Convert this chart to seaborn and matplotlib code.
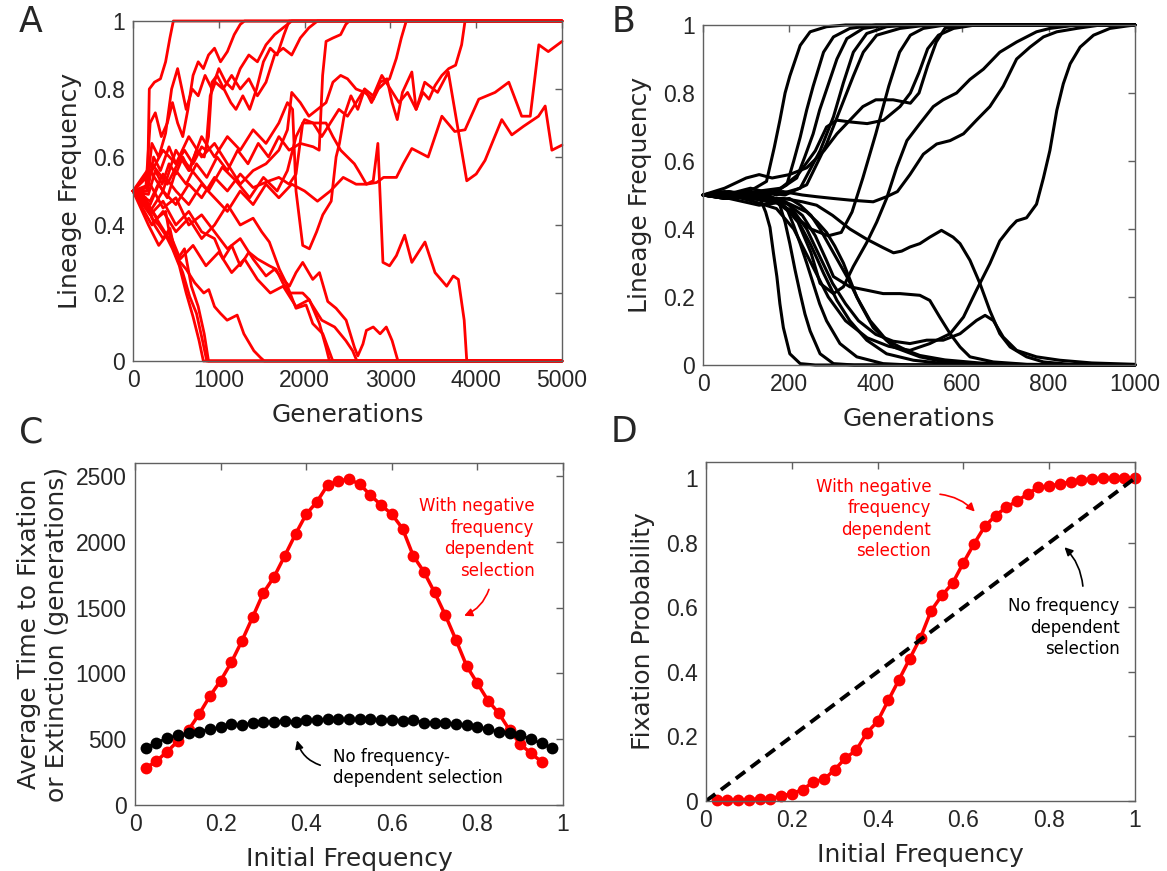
import numpy as np
import pandas as pd
import matplotlib
matplotlib.use("Agg")
import matplotlib.pyplot as plt
import seaborn as sns

# ---------------- data ----------------
# Panel A: lineage trajectories with negative frequency-dependent selection (generation, frequency)
A01 = [(0,.50),(100,.50),(170,.52),(190,.80),(250,.82),(320,.83),(380,.88),(430,.95),(470,1.0),(5000,1.0)]
A02 = [(0,.50),(150,.51),(200,.70),(260,.73),(330,.66),(400,.70),(460,.76),(520,.70),(580,.66),(640,.74),(700,.84),(760,.88),(820,.86),(880,.90),(950,.92),(1020,.88),(1100,.91),(1180,.96),(1250,.99),(1300,1.0),(5000,1.0)]
A03 = [(0,.50),(160,.50),(220,.64),(300,.60),(380,.67),(450,.80),(520,.86),(570,.80),(620,.74),(690,.80),(760,.78),(840,.84),(920,.80),(1000,.86),(1080,.82),(1160,.80),(1250,.86),(1350,.90),(1450,.88),(1550,.93),(1650,.96),(1750,.98),(1850,1.0),(5000,1.0)]
A04 = [(0,.50),(170,.50),(240,.60),(320,.56),(420,.63),(500,.58),(600,.62),(700,.58),(800,.63),(850,.62),(900,.78),(960,.82),(1050,.80),(1150,.84),(1250,.80),(1350,.83),(1450,.78),(1550,.82),(1650,.90),(1750,.92),(1850,.90),(1950,.95),(2050,.98),(2150,1.0),(5000,1.0)]
A05 = [(0,.50),(180,.49),(260,.56),(340,.52),(420,.58),(500,.55),(580,.60),(660,.56),(740,.62),(830,.60),(880,.66),(920,.82),(980,.84),(1060,.80),(1140,.76),(1200,.74),(1280,.78),(1360,.74),(1440,.80),(1520,.88),(1600,.92),(1680,.90),(1760,.96),(1820,1.0),(5000,1.0)]
A06 = [(0,.50),(200,.46),(300,.52),(400,.48),(500,.56),(620,.52),(740,.58),(860,.54),(980,.60),(1100,.56),(1220,.62),(1340,.58),(1460,.64),(1580,.60),(1700,.66),(1820,.62),(1950,.64),(2100,.63),(2170,.62),(2210,.84),(2250,.94),(2330,.95),(2420,.96),(2480,.99),(2520,1.0),(5000,1.0)]
A07 = [(0,.50),(200,.55),(350,.62),(500,.58),(650,.66),(800,.60),(950,.64),(1100,.58),(1250,.52),(1400,.56),(1550,.58),(1700,.62),(1800,.68),(1850,.79),(1950,.76),(2050,.72),(2150,.74),(2250,.76),(2330,.82),(2420,.84),(2500,.83),(2600,.80),(2700,.79),(2800,.77),(2880,.82),(2960,.83),(3020,.76),(3080,.71),(3140,.79),(3250,.85),(3300,.74),(3380,.79),(3450,.77),(3520,.81),(3600,.84),(3680,.86),(3760,.87),(3830,.93),(3870,1.0),(5000,1.0)]
A08 = [(0,.50),(200,.44),(350,.50),(500,.46),(650,.52),(800,.48),(950,.54),(1100,.50),(1250,.55),(1400,.51),(1590,.53),(1700,.54),(1820,.52),(1900,.55),(1978,.70),(2100,.70),(2250,.70),(2330,.66),(2420,.62),(2500,.60),(2580,.58),(2640,.555),(2720,.52),(2840,.525),(2920,.54),(3070,.54),(3150,.58),(3250,.625),(3440,.60),(3600,.72),(3750,.675),(3870,.68),(4030,.77),(4220,.79),(4380,.82),(4530,.72),(4630,.72),(4730,.93),(4840,.91),(5000,.94)]
A09 = [(0,.50),(220,.58),(400,.52),(560,.60),(720,.55),(880,.50),(1040,.57),(1200,.53),(1360,.48),(1520,.54),(1680,.50),(1800,.56),(1900,.66),(2000,.71),(2100,.70),(2200,.66),(2300,.70),(2400,.74),(2500,.72),(2600,.76),(2700,.80),(2800,.78),(2900,.84),(3000,.80),(3100,.76),(3200,.79),(3300,.74),(3400,.82),(3550,.79),(3675,.85),(3890,.53),(4000,.55),(4103,.59),(4200,.65),(4298,.71),(4415,.665),(4550,.69),(4726,.72),(4804,.75),(4882,.62),(5000,.635)]
A10 = [(0,.50),(200,.47),(350,.55),(500,.50),(650,.46),(800,.52),(950,.48),(1100,.44),(1250,.50),(1400,.46),(1550,.52),(1700,.48),(1850,.52),(2000,.50),(2150,.47),(2300,.50),(2450,.54),(2600,.52),(2720,.52),(2800,.53),(2854,.64),(2913,.29),(2990,.28),(3070,.31),(3166,.37),(3250,.29),(3403,.35),(3520,.26),(3656,.22),(3733,.25),(3792,.24),(3860,.12),(3890,0.0),(5000,0.0)]
A11 = [(0,.50),(120,.49),(220,.42),(300,.40),(380,.37),(460,.33),(540,.28),(620,.20),(700,.13),(770,.06),(820,0.0),(5000,0.0)]
A12 = [(0,.50),(150,.48),(250,.40),(350,.36),(430,.39),(500,.31),(580,.26),(660,.19),(740,.14),(810,.06),(860,0.0),(5000,0.0)]
A13 = [(0,.50),(180,.46),(280,.42),(380,.44),(450,.34),(520,.30),(600,.33),(680,.22),(760,.16),(830,.08),(880,0.0),(5000,0.0)]
A14 = [(0,.50),(200,.45),(320,.40),(420,.36),(520,.30),(620,.27),(720,.23),(825,.20),(883,.21),(950,.16),(1019,.14),(1097,.12),(1214,.135),(1292,.08),(1409,.03),(1486,.01),(1530,0.0),(5000,0.0)]
A15 = [(0,.50),(200,.43),(350,.47),(500,.40),(650,.44),(800,.38),(950,.36),(1050,.30),(1150,.34),(1250,.28),(1350,.32),(1450,.30),(1589,.28),(1667,.27),(1745,.23),(1823,.20),(1978,.20),(2056,.18),(2173,.11),(2250,.04),(2290,0.0),(5000,0.0)]
A16 = [(0,.50),(220,.40),(350,.44),(500,.38),(650,.42),(800,.36),(950,.40),(1100,.46),(1250,.40),(1400,.42),(1500,.38),(1589,.35),(1706,.27),(1784,.23),(1900,.155),(2017,.165),(2095,.11),(2212,.08),(2329,0.0),(5000,0.0)]
A17 = [(0,.50),(200,.52),(350,.45),(500,.48),(650,.40),(800,.43),(950,.38),(1100,.33),(1250,.36),(1400,.30),(1550,.25),(1650,.27),(1750,.24),(1823,.22),(1900,.26),(1978,.29),(2095,.24),(2173,.26),(2270,.175),(2367,.155),(2484,.12),(2581,.04),(2620,.015),(2680,.05),(2720,.09),(2800,.10),(2880,.08),(2952,.10),(3020,.06),(3088,0.0),(5000,0.0)]
A18 = [(0,.50),(200,.56),(350,.50),(500,.62),(650,.56),(800,.66),(950,.60),(1100,.66),(1250,.62),(1400,.68),(1550,.64),(1700,.70),(1800,.76),(1860,.74),(1900,.50),(1978,.34),(2056,.33),(2140,.38),(2212,.43),(2310,.47),(2367,.60),(2406,.64),(2460,.72),(2540,.78),(2620,.74),(2700,.80),(2780,.76),(2860,.80),(2940,.82),(2990,.83),(3069,.89),(3127,.95),(3185,1.0),(5000,1.0)]
A19 = [(0,.50),(180,.40),(300,.34),(420,.38),(550,.30),(700,.34),(850,.28),(1000,.32),(1150,.26),(1300,.30),(1450,.24),(1600,.20),(1750,.22),(1900,.16),(2050,.18),(2200,.12),(2350,.10),(2480,.06),(2560,.03),(2610,0.0),(5000,0.0)]
A_paths = [A01, A02, A03, A04, A05, A06, A07, A08, A09, A10, A11, A12, A13, A14, A15, A16, A17, A18, A19]

# Panel B: trajectories without frequency dependence (generation, frequency)
B01 = [(0,.50),(40,.51),(80,.50),(120,.52),(147,.54),(165,.64),(178,.72),(190,.80),(201,.85),(225,.94),(248,.98),(286,.995),(330,1.0),(1000,1.0)]
B02 = [(0,.50),(50,.49),(100,.51),(150,.50),(194,.53),(210,.60),(225,.67),(240,.75),(255,.82),(279,.92),(302,.965),(340,.99),(400,1.0),(1000,1.0)]
B03 = [(0,.50),(60,.51),(120,.49),(170,.51),(217,.55),(235,.61),(255,.68),(270,.75),(286,.81),(310,.90),(333,.96),(371,.99),(430,1.0),(1000,1.0)]
B04 = [(0,.50),(50,.50),(110,.52),(170,.50),(225,.52),(250,.58),(271,.63),(302,.73),(325,.83),(348,.92),(379,.975),(425,.995),(480,1.0),(1000,1.0)]
B05 = [(0,.50),(70,.49),(130,.51),(190,.50),(240,.53),(286,.65),(317,.75),(348,.85),(371,.92),(402,.97),(456,.99),(520,1.0),(1000,1.0)]
B06 = [(0,.50),(50,.52),(100,.55),(130,.56),(160,.55),(200,.56),(240,.58),(280,.63),(310,.68),(340,.72),(370,.76),(400,.78),(440,.78),(480,.77),(500,.80),(520,.88),(540,.95),(560,.99),(600,1.0),(1000,1.0)]
B07 = [(0,.50),(60,.50),(120,.51),(180,.52),(220,.56),(260,.63),(286,.70),(310,.72),(340,.715),(380,.71),(418,.72),(456,.76),(480,.80),(500,.86),(520,.93),(545,.97),(580,.99),(630,1.0),(1000,1.0)]
B08 = [(0,.50),(60,.49),(120,.50),(170,.48),(210,.44),(250,.40),(290,.38),(320,.39),(345,.45),(370,.55),(400,.68),(430,.82),(455,.92),(480,.97),(510,.99),(560,1.0),(1000,1.0)]
B09 = [(0,.50),(60,.51),(120,.50),(180,.48),(220,.42),(250,.33),(271,.24),(302,.21),(325,.23),(348,.29),(379,.36),(402,.42),(425,.49),(448,.58),(472,.66),(502,.71),(533,.76),(556,.78),(587,.80),(618,.84),(649,.87),(687,.92),(726,.95),(772,.98),(803,.99),(865,1.0),(1000,1.0)]
B10 = [(0,.50),(50,.49),(100,.50),(150,.51),(186,.51),(230,.50),(263,.495),(300,.49),(340,.485),(394,.48),(425,.495),(450,.51),(479,.56),(510,.62),(541,.65),(572,.66),(603,.68),(633,.72),(664,.76),(695,.82),(726,.90),(757,.935),(788,.965),(819,.98),(865,.99),(920,1.0),(1000,1.0)]
B11 = [(0,.50),(60,.50),(120,.48),(170,.46),(210,.40),(250,.30),(290,.20),(330,.13),(380,.08),(430,.055),(479,.043),(525,.063),(572,.092),(603,.141),(633,.22),(664,.298),(687,.365),(711,.404),(726,.424),(749,.433),(772,.473),(788,.55),(803,.631),(819,.749),(834,.827),(850,.886),(873,.935),(904,.97),(942,.99),(981,.997),(1000,1.0)]
B12 = [(0,.50),(50,.49),(100,.50),(132,.49),(145,.45),(155,.405),(163,.33),(171,.26),(178,.18),(186,.11),(201,.033),(225,.004),(260,0.0),(1000,0.0)]
B13 = [(0,.50),(60,.50),(120,.49),(160,.49),(178,.47),(190,.42),(201,.357),(213,.28),(225,.21),(236,.15),(248,.10),(271,.033),(302,.004),(350,0.0),(1000,0.0)]
B14 = [(0,.50),(70,.49),(140,.50),(194,.46),(210,.41),(225,.357),(240,.30),(255,.24),(270,.18),(286,.13),(317,.063),(356,.024),(417,.004),(480,0.0),(1000,0.0)]
B15 = [(0,.50),(50,.51),(110,.49),(170,.48),(209,.45),(230,.40),(248,.357),(265,.31),(279,.27),(310,.19),(340,.13),(379,.073),(425,.033),(487,.014),(560,.004),(650,0.0),(1000,0.0)]
B16 = [(0,.50),(80,.50),(150,.48),(200,.49),(225,.47),(250,.44),(271,.40),(302,.33),(333,.26),(364,.18),(394,.11),(441,.053),(502,.024),(556,.01),(650,.003),(750,0.0),(1000,0.0)]
B17 = [(0,.50),(60,.49),(130,.47),(190,.48),(240,.45),(265,.42),(286,.39),(305,.35),(325,.30),(356,.20),(387,.13),(425,.073),(471,.043),(502,.028),(560,.015),(640,.006),(720,.002),(800,0.0),(1000,0.0)]
B18 = [(0,.50),(60,.50),(120,.49),(186,.49),(230,.48),(263,.47),(300,.44),(340,.40),(379,.37),(417,.345),(441,.33),(460,.335),(479,.347),(502,.357),(525,.376),(552,.396),(579,.376),(595,.357),(618,.308),(641,.24),(664,.16),(687,.092),(711,.053),(749,.024),(788,.009),(850,.002),(1000,0.0)]
B19 = [(0,.50),(60,.49),(130,.50),(190,.48),(230,.44),(260,.38),(285,.31),(302,.26),(340,.23),(379,.22),(417,.21),(456,.21),(502,.205),(525,.19),(548,.141),(572,.092),(595,.053),(618,.024),(672,.009),(750,.002),(1000,0.0)]
B20 = [(0,.50),(50,.50),(100,.49),(150,.50),(200,.47),(240,.40),(270,.32),(300,.24),(330,.18),(360,.13),(400,.09),(440,.07),(479,.063),(518,.073),(556,.073),(595,.092),(633,.131),(653,.146),(672,.131),(695,.082),(726,.043),(772,.024),(826,.014),(900,.006),(1000,.002)]
B_paths = [B01, B02, B03, B04, B05, B06, B07, B08, B09, B10, B11, B12, B13, B14, B15, B16, B17, B18, B19, B20]

# Panel C: average time to fixation or extinction
C_x_red = [0.025*i for i in range(1, 39)]
C_time_nfds = [279, 334, 405, 486, 570, 692, 828, 945, 1084, 1249, 1429, 1613, 1735, 1895, 2059, 2211,
               2305, 2432, 2462, 2477, 2439, 2356, 2280, 2211, 2102, 1895, 1773, 1616, 1444, 1254, 1056,
               925, 793, 697, 570, 464, 393, 329]
C_x_black = [0.025*i for i in range(1, 40)]
C_time_neutral = [436, 474, 507, 529, 545, 557, 575, 590, 616, 605, 626, 631, 631, 638, 631, 646, 646,
                  651, 651, 651, 651, 651, 646, 646, 638, 646, 626, 626, 621, 616, 605, 595, 575, 557,
                  550, 532, 499, 469, 431]

# Panel D: fixation probability
D_x_red = [0.025*i for i in range(1, 41)]
D_prob_nfds = [0.002, 0.002, 0.004, 0.004, 0.007, 0.007, 0.015, 0.023, 0.035, 0.059, 0.067, 0.097,
               0.133, 0.157, 0.211, 0.247, 0.312, 0.376, 0.441, 0.506, 0.590, 0.637, 0.675, 0.738,
               0.797, 0.851, 0.884, 0.910, 0.929, 0.951, 0.972, 0.975, 0.982, 0.988, 0.995, 0.998,
               1.0, 1.0, 1.0, 1.0]
D_x_neutral = [0.0, 1.0]
D_prob_neutral = [0.0, 1.0]

freq_ticks = [0, 0.2, 0.4, 0.6, 0.8, 1]
freq_labels = ["0", "0.2", "0.4", "0.6", "0.8", "1"]
A_gen_ticks = [0, 1000, 2000, 3000, 4000, 5000]
B_gen_ticks = [0, 200, 400, 600, 800, 1000]
C_time_ticks = [0, 500, 1000, 1500, 2000, 2500]

panel_letters = ["A", "B", "C", "D"]

# ---------------- style ----------------
sns.set_style("white")
plt.rcParams['font.family'] = ['DejaVu Sans']

W, H = 1167, 871
fig = plt.figure(figsize=(W/100, H/100), dpi=100)

def px_axes(l, r, t, b):
    return fig.add_axes([l/W, 1 - b/H, (r - l)/W, (b - t)/H])

axA = px_axes(133, 562, 21, 361)
axB = px_axes(703, 1135, 25, 365)
axC = px_axes(135, 563, 463, 805)
axD = px_axes(706, 1135, 462, 801)

TICK_FS = 16.5
LABEL_FS = 18
TICK_FONT = 'Liberation Sans'

def style(ax):
    for s in ax.spines.values():
        s.set_color('#606060')
        s.set_linewidth(1.0)
        s.set_visible(True)
    ax.tick_params(direction='in', top=True, right=True, length=5, width=1,
                   color='#606060', labelsize=TICK_FS, pad=6)
    for lab in ax.get_xticklabels() + ax.get_yticklabels():
        lab.set_fontfamily(TICK_FONT)
    ax.grid(False)

def paths_df(paths):
    rows = []
    for k, p in enumerate(paths):
        for g, f in p:
            rows.append((k, g, f))
    return pd.DataFrame(rows, columns=["unit", "gen", "freq"])

# Panel A
dfA = paths_df(A_paths)
sns.lineplot(data=dfA, x="gen", y="freq", units="unit", estimator=None, color="#ff0000",
             lw=2.0, ax=axA, sort=False, clip_on=False)
axA.set_xlim(0, 5000); axA.set_ylim(0, 1)
axA.set_xticks(A_gen_ticks); axA.set_xticklabels([str(t) for t in A_gen_ticks])
axA.set_yticks(freq_ticks); axA.set_yticklabels(freq_labels)
axA.set_xlabel("Generations", fontsize=LABEL_FS, labelpad=8)
axA.set_ylabel("Lineage Frequency", fontsize=LABEL_FS, labelpad=8)
style(axA)

# Panel B
dfB = paths_df(B_paths)
sns.lineplot(data=dfB, x="gen", y="freq", units="unit", estimator=None, color="black",
             lw=2.2, ax=axB, sort=False, clip_on=False)
axB.set_xlim(0, 1000); axB.set_ylim(0, 1)
axB.set_xticks(B_gen_ticks); axB.set_xticklabels([str(t) for t in B_gen_ticks])
axB.set_yticks(freq_ticks); axB.set_yticklabels(freq_labels)
axB.set_xlabel("Generations", fontsize=LABEL_FS, labelpad=8)
axB.set_ylabel("Lineage Frequency", fontsize=LABEL_FS, labelpad=8)
style(axB)

# Panel C
dfC_red = pd.DataFrame({"x": C_x_red, "t": C_time_nfds})
dfC_blk = pd.DataFrame({"x": C_x_black, "t": C_time_neutral})
sns.lineplot(data=dfC_red, x="x", y="t", color="#ff0000", lw=2.5, marker="o", markersize=8.5,
             markeredgewidth=0, ax=axC)
sns.lineplot(data=dfC_blk, x="x", y="t", color="black", lw=2.0, marker="o", markersize=8.5,
             markeredgewidth=0, ax=axC)
axC.set_xlim(0, 1); axC.set_ylim(0, 2600)
axC.set_xticks(freq_ticks); axC.set_xticklabels(freq_labels)
axC.set_yticks(C_time_ticks); axC.set_yticklabels([str(t) for t in C_time_ticks])
axC.set_xlabel("Initial Frequency", fontsize=LABEL_FS, labelpad=8)
axC.set_ylabel("Average Time to Fixation\nor Extinction (generations)", fontsize=LABEL_FS,
               labelpad=5, linespacing=1.2)
style(axC)
axC.text(0.933, 2025, "With negative\nfrequency\ndependent\nselection", color="#ff0000",
         ha="right", va="center", fontsize=12, linespacing=1.25)
axC.annotate("", xy=(0.763, 1431), xytext=(0.829, 1659),
             arrowprops=dict(arrowstyle="-|>", color="#ff0000", lw=1.2,
                             connectionstyle="arc3,rad=-0.25", mutation_scale=12))
axC.text(0.463, 286, "No frequency-\ndependent selection", color="black",
         ha="left", va="center", fontsize=12, linespacing=1.25)
axC.annotate("", xy=(0.377, 512), xytext=(0.439, 296),
             arrowprops=dict(arrowstyle="-|>", color="black", lw=1.2,
                             connectionstyle="arc3,rad=-0.3", mutation_scale=12))

# Panel D
dfD_red = pd.DataFrame({"x": D_x_red, "p": D_prob_nfds})
dfD_blk = pd.DataFrame({"x": D_x_neutral, "p": D_prob_neutral})
sns.lineplot(data=dfD_red, x="x", y="p", color="#ff0000", lw=2.5, marker="o", markersize=8.5,
             markeredgewidth=0, ax=axD, clip_on=False)
sns.lineplot(data=dfD_blk, x="x", y="p", color="black", lw=2.8, ax=axD)
axD.lines[-1].set_dashes([3.0, 1.8])
axD.set_xlim(0, 1); axD.set_ylim(0, 1.05)
axD.set_xticks(freq_ticks); axD.set_xticklabels(freq_labels)
axD.set_yticks(freq_ticks); axD.set_yticklabels(freq_labels)
axD.set_xlabel("Initial Frequency", fontsize=LABEL_FS, labelpad=8)
axD.set_ylabel("Fixation Probability", fontsize=LABEL_FS, labelpad=8)
style(axD)
axD.text(0.525, 0.874, "With negative\nfrequency\ndependent\nselection", color="#ff0000",
         ha="right", va="center", fontsize=12, linespacing=1.25)
axD.annotate("", xy=(0.631, 0.890), xytext=(0.539, 0.951),
             arrowprops=dict(arrowstyle="-|>", color="#ff0000", lw=1.2,
                             connectionstyle="arc3,rad=-0.2", mutation_scale=12))
axD.text(0.964, 0.537, "No frequency\ndependent\nselection", color="black",
         ha="right", va="center", fontsize=12, linespacing=1.25)
axD.annotate("", xy=(0.831, 0.792), xytext=(0.879, 0.657),
             arrowprops=dict(arrowstyle="-|>", color="black", lw=1.2,
                             connectionstyle="arc3,rad=0.2", mutation_scale=12))

# Panel letters
for letter, (x, y) in zip(panel_letters, [(31, 22), (624, 22), (31, 432), (624, 432)]):
    fig.text(x/W, 1 - y/H, letter, fontsize=25, ha="center", va="center")

fig.savefig("out.png", dpi=100)
